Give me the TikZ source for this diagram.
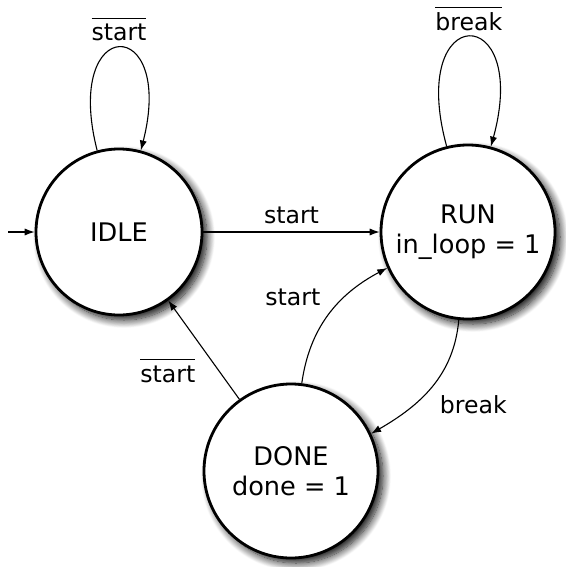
\documentclass[tikz,border=0pt]{standalone}
\usepackage{fontspec}
\setmainfont{DejaVu Sans}
\usetikzlibrary{arrows.meta,shadows.blur}
\newcommand{\negsig}[1]{$\overline{\mbox{#1}\rule{0pt}{10pt}}$}
\begin{document}
\begin{tikzpicture}[x=0.5pt,y=-0.5pt,
  statenode/.style={circle,draw,line width=1.4pt,fill=white,align=center,
    font=\fontsize{12.8}{14.8}\selectfont,
    blur shadow={shadow xshift=2.5pt,shadow yshift=-2.5pt,shadow blur radius=4pt,shadow blur steps=12,shadow opacity=95}},
  conn/.style={line width=0.55pt,-{Latex[length=5pt,width=3.6pt]}},
  lbl/.style={font=\fontsize{11.8}{14}\selectfont,inner sep=4pt}]
\useasboundingbox (0,0) rectangle (566,567);
\node[statenode,minimum size=83pt] (idle) at (119,232) {IDLE};
\node[statenode,minimum size=87pt] (run) at (468,232) {RUN\\in\_loop = 1};
\node[statenode,minimum size=87pt] (done) at (291,471) {DONE\\done = 1};
\coordinate (init) at (8,232);
\draw[conn] (init) -- (idle);
\draw[conn] (idle.105) .. controls +(-35,-137) and +(35,-137) .. node[lbl,pos=0.5,above,inner sep=3pt] {\negsig{start}} (idle.75);
\draw[conn] (run.104) .. controls +(-40,-146) and +(40,-146) .. node[lbl,pos=0.5,above,inner sep=3pt] {\negsig{break}} (run.75);
\draw[conn] (idle) -- node[lbl,above] {start} (run);
\draw[conn] (done.83) to[out=82,in=208] node[lbl,above left] {start} (run.204);
\draw[conn] (done) -- node[lbl,below left] {\negsig{start}} (idle);
\draw[conn] (run.264) to[out=-95,in=30] node[lbl,below right] {break} (done.25);
\end{tikzpicture}
\end{document}
